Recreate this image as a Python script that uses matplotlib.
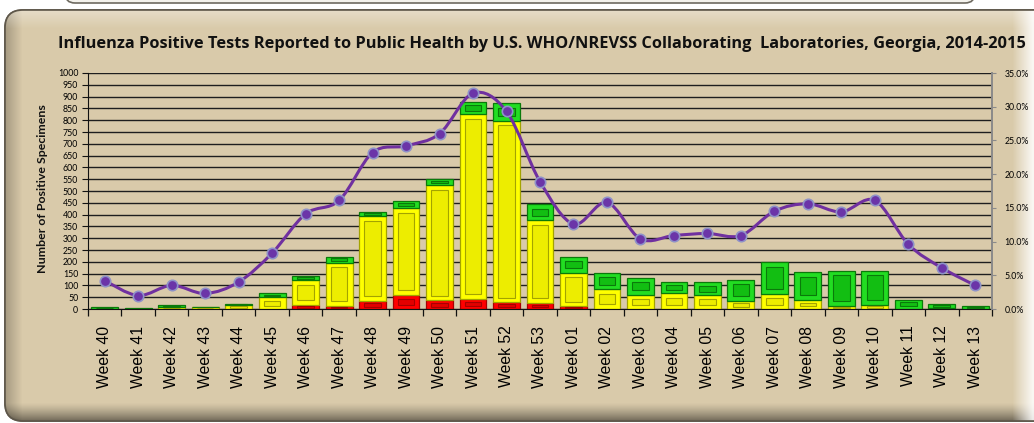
import numpy as np
import matplotlib
matplotlib.use("Agg")
import matplotlib.pyplot as plt
from matplotlib.patches import FancyBboxPatch
from matplotlib.path import Path
from matplotlib.patches import PathPatch

weeks = ["Week 40", "Week 41", "Week 42", "Week 43", "Week 44", "Week 45", "Week 46",
         "Week 47", "Week 48", "Week 49", "Week 50", "Week 51", "Week 52", "Week 53",
         "Week 01", "Week 02", "Week 03", "Week 04", "Week 05", "Week 06", "Week 07",
         "Week 08", "Week 09", "Week 10", "Week 11", "Week 12", "Week 13"]
red_vals = [0, 0, 0, 0, 0, 0, 17, 13, 35, 60, 37, 42, 28, 25, 11, 0, 0, 0, 0, 0, 0,
            0, 0, 0, 0, 0, 0]
yellow_vals = [0, 0, 8, 8, 15, 49, 106, 184, 357, 368, 488, 783, 770, 352, 143, 83, 60,
               67, 59, 35, 64, 38, 14, 17, 2, 5, 0]
green_vals = [8, 5, 7, 2, 7, 17, 17, 25, 18, 28, 25, 54, 73, 66, 66, 71, 73, 49, 54, 90,
              136, 119, 148, 145, 36, 18, 13]
pct_positive = [4.2, 2.0, 3.5, 2.3, 4.0, 8.3, 14.1, 16.1, 23.2, 24.2, 26.0, 32.0, 29.3,
                18.9, 12.6, 15.8, 10.4, 10.9, 11.2, 10.9, 14.5, 15.6, 14.4, 16.1, 9.6,
                6.1, 3.5]
left_ticks = list(range(0, 1001, 50))
right_ticks = [0, 5, 10, 15, 20, 25, 30, 35]
title = ("Influenza Positive Tests Reported to Public Health by U.S. WHO/NREVSS "
         "Collaborating  Laboratories, Georgia, 2014-2015")

W, H = 1034, 423
fig = plt.figure(figsize=(W / 100, H / 100), dpi=100)
fig.patch.set_facecolor("white")

# ---------- background panel ----------
bg = fig.add_axes([0, 0, 1, 1], zorder=-10)
bg.set_xlim(0, W)
bg.set_ylim(H, 0)
bg.axis("off")

top_strip = FancyBboxPatch((65, -30), 910, 33, boxstyle="round,pad=0,rounding_size=10",
                           facecolor="#F4F2EC", edgecolor="#6E6A60", lw=1.2)
bg.add_patch(top_strip)

panel = FancyBboxPatch((5, 10), 1060, 411, boxstyle="round,pad=0,rounding_size=18",
                       facecolor="#D9CAA9", edgecolor="#5E574A", lw=1.2)
bg.add_patch(panel)

xx, yy = np.meshgrid(np.arange(W), np.arange(H))
base = np.array([217, 202, 170], float) / 255
img = np.ones((H, W, 3)) * base
left_dark = np.clip((22 - xx) / 16, 0, 1)
bottom_dark = np.clip((yy - 402) / 19, 0, 1) ** 1.3
right_light = np.clip((xx - 1012) / 20, 0, 1)
top_light = np.clip((28 - yy) / 18, 0, 1)
img = img * (1 - 0.22 * left_dark[..., None])
img = img * (1 - 0.5 * bottom_dark[..., None])
img = img + (1 - img) * (0.35 * top_light[..., None])
img = img + (1 - img) * (0.85 * right_light[..., None])
im = bg.imshow(img, extent=(0, W, H, 0), zorder=1, interpolation="bilinear")
im.set_clip_path(panel)
edge = FancyBboxPatch((5, 10), 1060, 411, boxstyle="round,pad=0,rounding_size=18",
                      facecolor="none", edgecolor="#5E574A", lw=1.2, zorder=2)
bg.add_patch(edge)

# ---------- main axes ----------
left, right, top, bottom = 88, 992, 73, 309
ax = fig.add_axes([left / W, 1 - bottom / H, (right - left) / W, (bottom - top) / H])
ax.set_facecolor("none")
n = len(weeks)
x = np.arange(n)
ax.set_xlim(-0.5, n - 0.5)
ax.set_ylim(0, 1000)
ax.set_yticks(left_ticks)
ax.set_yticklabels([str(v) for v in left_ticks], fontsize=6.3, family="Lato")
ax.yaxis.grid(True, color="#1E1E1E", lw=1.0)
ax.set_axisbelow(True)
ax.tick_params(axis="y", length=4, width=0.8, pad=3, color="#111111")
ax.set_xticks(x)
ax.set_xticklabels(weeks, rotation=90, fontsize=11.3, family="Liberation Sans")
ax.tick_params(axis="x", length=0, pad=12)
ax.set_xticks(np.arange(n + 1) - 0.5, minor=True)
ax.tick_params(axis="x", which="minor", length=5, width=0.9, color="#111111")
for s in ["top", "right"]:
    ax.spines[s].set_visible(False)
ax.spines["left"].set_color("#111111")
ax.spines["bottom"].set_color("#111111")
ax.axhline(1000, color="#8A8A8A", lw=1.4, zorder=0.5)

bw = 0.8
schemes = {
    "red": ("#FF0000", "#E30000", "#A80000"),
    "yellow": ("#FFFF00", "#EDED00", "#A3A300"),
    "green": ("#22DD22", "#12BE12", "#0A7A0A"),
}


def draw_segment(xs, bottoms, heights, key):
    face, inner, edgec = schemes[key]
    ax.bar(xs, heights, bw, bottom=bottoms, color=face, edgecolor=edgec, lw=0.9, zorder=2)
    for xi, b, h in zip(xs, bottoms, heights):
        if h < 6:
            continue
        inset = min(20, h * 0.28)
        ax.bar(xi, h - 2 * inset, bw * 0.62, bottom=b + inset, color=inner,
               edgecolor=edgec, lw=0.8, zorder=3)


red = np.array(red_vals, float)
yel = np.array(yellow_vals, float)
grn = np.array(green_vals, float)
draw_segment(x, np.zeros(n), red, "red")
draw_segment(x, red, yel, "yellow")
draw_segment(x, red + yel, grn, "green")

# ---------- percent line ----------
ax2 = ax.twinx()
ax2.set_facecolor("none")
ax2.set_ylim(0, 35)
ax2.set_yticks(right_ticks)
ax2.set_yticklabels([f"{v:.1f}%" for v in right_ticks], fontsize=6.3, family="Lato")
ax2.tick_params(axis="y", length=3, width=0.8, color="#8A8A8A", pad=6)
for s in ["top", "left", "bottom"]:
    ax2.spines[s].set_visible(False)
ax2.spines["right"].set_color("#8A8A8A")
ax2.spines["right"].set_linewidth(1.4)

p = np.column_stack([x, np.array(pct_positive, float)])
verts = [tuple(p[0])]
codes = [Path.MOVETO]
for i in range(n - 1):
    p0 = p[i - 1] if i > 0 else p[i]
    p3 = p[i + 2] if i + 2 < n else p[i + 1]
    c1 = p[i] + (p[i + 1] - p0) / 6
    c2 = p[i + 1] - (p3 - p[i]) / 6
    verts += [tuple(c1), tuple(c2), tuple(p[i + 1])]
    codes += [Path.CURVE4] * 3
ax2.add_patch(PathPatch(Path(verts, codes), facecolor="none", edgecolor="#7030A0",
                        lw=2.2, zorder=4, capstyle="round"))
ax2.plot(x, pct_positive, ls="none", marker="o", ms=7.5, mfc="#6B35A8",
         mec="#8E92C8", mew=1.2, zorder=5)

fig.text(58 / W, 1 - 47.5 / H, title, fontsize=11.8, fontweight="bold", family="Open Sans",
         ha="left", va="baseline", color="#111111")
fig.text(43 / W, 1 - 189 / H, "Number of Positive Specimens", rotation=90, fontsize=8.9,
         fontweight="bold", family="Lato", ha="center", va="center", color="#111111")

fig.savefig("out.png", dpi=100)
